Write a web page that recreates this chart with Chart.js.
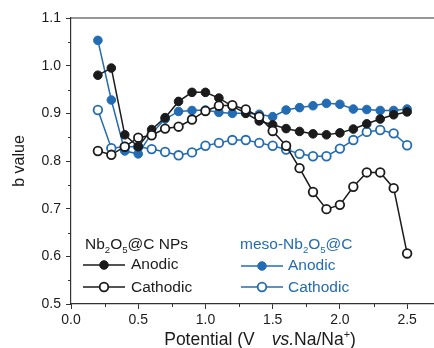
<!DOCTYPE html>
<html>
<head>
<meta charset="utf-8">
<script src="https://cdn.jsdelivr.net/npm/chart.js@4/dist/chart.umd.min.js"></script>
<style>
  html, body { margin: 0; padding: 0; background: #fff; }
  #wrap { width: 434px; height: 348px; position: relative; }
</style>
</head>
<body>
<div id="wrap"><canvas id="c" width="434" height="348"></canvas></div>
<script>
// ---- data ----
const potentials = [0.2,0.3,0.4,0.5,0.6,0.7,0.8,0.9,1.0,1.1,1.2,1.3,1.4,1.5,1.6,1.7,1.8,1.9,2.0,2.1,2.2,2.3,2.4,2.5];
const npAnodic   = [0.980,0.995,0.855,0.830,0.866,0.891,0.925,0.944,0.944,0.932,0.915,0.900,0.884,0.876,0.868,0.862,0.857,0.855,0.859,0.867,0.878,0.888,0.897,0.903];
const npCathodic = [0.821,0.813,0.830,0.849,0.854,0.868,0.872,0.887,0.905,0.916,0.917,0.908,0.893,0.863,0.832,0.785,0.735,0.699,0.708,0.746,0.776,0.776,0.743,0.606];
const mesoAnodic = [1.053,0.928,0.821,0.815,0.858,0.888,0.904,0.906,0.907,0.902,0.900,0.900,0.898,0.893,0.907,0.912,0.916,0.921,0.919,0.909,0.908,0.906,0.906,0.909];
const mesoCathodic = [0.907,0.827,0.830,0.830,0.825,0.819,0.812,0.818,0.832,0.838,0.844,0.844,0.838,0.832,0.824,0.815,0.810,0.810,0.826,0.844,0.861,0.865,0.858,0.833];
const xTicks = [0.0,0.5,1.0,1.5,2.0,2.5];
const yTicks = [0.5,0.6,0.7,0.8,0.9,1.0,1.1];
const xMinorTicks = [0.25,0.75,1.25,1.75,2.25];
const yMinorTicks = [0.55,0.65,0.75,0.85,0.95,1.05];
const groupNP = 'Nb2O5@C NPs';
const groupMeso = 'meso-Nb2O5@C';
const seriesLabels = ['Anodic','Cathodic'];

const BLACK = '#1b1b1b';
const BLUE = '#236cb4';
const FONT = '"Liberation Sans", Arial, Helvetica, sans-serif';

function pts(arr){ return potentials.map((x,i)=>({x:x, y:arr[i]})); }
function ds(label, arr, color, filled){
  return {
    label: label, data: pts(arr), borderColor: color, backgroundColor: filled ? color : '#ffffff',
    borderWidth: 1.5, pointRadius: 4.3, pointBorderWidth: filled ? 1 : 1.8,
    pointBackgroundColor: filled ? color : '#ffffff', pointBorderColor: color,
    tension: 0, fill: false, clip: false
  };
}

function drawRich(ctx, x, y, segs, size, color){
  let cx = x;
  ctx.fillStyle = color;
  ctx.textBaseline = 'alphabetic';
  ctx.textAlign = 'left';
  for (const s of segs){
    if (s.gap){ cx += s.gap; continue; }
    const f = (s.sub || s.sup) ? size*0.62 : size;
    ctx.font = (s.italic ? 'italic ' : '') + f + 'px ' + FONT;
    const dy = s.sub ? size*0.25 : (s.sup ? -size*0.38 : 0);
    ctx.fillText(s.t, cx, y + dy);
    cx += ctx.measureText(s.t).width;
  }
  return cx - x;
}
function richWidth(ctx, segs, size){
  let w = 0;
  for (const s of segs){
    if (s.gap){ w += s.gap; continue; }
    const f = (s.sub || s.sup) ? size*0.62 : size;
    ctx.font = (s.italic ? 'italic ' : '') + f + 'px ' + FONT;
    w += ctx.measureText(s.t).width;
  }
  return w;
}
function formulaSegs(label){
  const segs = [];
  const re = /(\d)/g;
  let last = 0, m;
  while ((m = re.exec(label)) !== null){
    if (m.index > last) segs.push({t: label.slice(last, m.index)});
    segs.push({t: m[1], sub: true});
    last = m.index + 1;
  }
  if (last < label.length) segs.push({t: label.slice(last)});
  return segs;
}

function sample(ctx, x0, x1, y, color, filled){
  ctx.save();
  ctx.strokeStyle = color; ctx.lineWidth = 1.5;
  ctx.beginPath(); ctx.moveTo(x0, y); ctx.lineTo(x1, y); ctx.stroke();
  ctx.beginPath(); ctx.arc((x0+x1)/2, y, 4.3, 0, Math.PI*2);
  ctx.fillStyle = filled ? color : '#fff'; ctx.fill();
  ctx.lineWidth = filled ? 1 : 1.8; ctx.stroke();
  ctx.restore();
}

const decor = {
  id: 'decor',
  afterDraw(chart){
    const ctx = chart.ctx;
    const a = chart.chartArea;
    const xs = chart.scales.x, ys = chart.scales.y;
    ctx.save();
    // top frame line
    ctx.strokeStyle = '#333'; ctx.lineWidth = 1.2;
    ctx.beginPath(); ctx.moveTo(a.left, a.top); ctx.lineTo(a.right, a.top); ctx.stroke();
    // minor ticks
    ctx.lineWidth = 1;
    for (const v of xMinorTicks){
      const px = Math.round(xs.getPixelForValue(v)) + 0.5;
      ctx.beginPath(); ctx.moveTo(px, a.bottom); ctx.lineTo(px, a.bottom + 3); ctx.stroke();
    }
    for (const v of yMinorTicks){
      const py = Math.round(ys.getPixelForValue(v)) + 0.5;
      ctx.beginPath(); ctx.moveTo(a.left, py); ctx.lineTo(a.left - 3, py); ctx.stroke();
    }
    // x-axis title
    const TS = 17.5;
    const tsegs = [{t:'Potential (V'},{gap:17},{t:'vs.', italic:true},{t:'Na/Na'},{t:'+', sup:true},{t:')'}];
    const tw = richWidth(ctx, tsegs, TS);
    drawRich(ctx, 260 - tw/2, 345, tsegs, TS, '#1b1b1b');
    // legends
    const L = 15.5;
    drawRich(ctx, a.left + 14, 249, formulaSegs(groupNP), L, '#1b1b1b');
    sample(ctx, a.left + 12, a.left + 54, 265, BLACK, true);
    drawRich(ctx, a.left + 60, 269, [{t: seriesLabels[0]}], L, '#1b1b1b');
    sample(ctx, a.left + 12, a.left + 54, 287, BLACK, false);
    drawRich(ctx, a.left + 60, 292, [{t: seriesLabels[1]}], L, '#1b1b1b');

    drawRich(ctx, a.left + 169, 249, formulaSegs(groupMeso), L, BLUE);
    sample(ctx, a.left + 170, a.left + 212, 266, BLUE, true);
    drawRich(ctx, a.left + 217, 270, [{t: seriesLabels[0]}], L, BLUE);
    sample(ctx, a.left + 170, a.left + 212, 287, BLUE, false);
    drawRich(ctx, a.left + 217, 292, [{t: seriesLabels[1]}], L, BLUE);
    ctx.restore();
  }
};

new Chart(document.getElementById('c'), {
  type: 'line',
  data: {
    datasets: [
      ds('NP Cathodic', npCathodic, BLACK, false),
      ds('NP Anodic', npAnodic, BLACK, true),
      ds('meso Anodic', mesoAnodic, BLUE, true),
      ds('meso Cathodic', mesoCathodic, BLUE, false)
    ]
  },
  options: {
    responsive: false,
    animation: false,
    devicePixelRatio: 1,
    layout: { autoPadding: false, padding: { top: 18, right: 0, left: 0, bottom: 0 } },
    plugins: { legend: { display: false }, tooltip: { enabled: false } },
    scales: {
      x: {
        type: 'linear', min: 0, max: 2.7,
        afterBuildTicks: s => { s.ticks = xTicks.map(v => ({value: v})); },
        afterFit: s => { s.height = 44; s.paddingLeft = 0; s.paddingRight = 0; },
        ticks: { font: { size: 14, family: FONT }, color: '#1b1b1b', padding: 3, maxRotation: 0, autoSkip: false,
                 callback: v => Number(v).toFixed(1) },
        grid: { drawOnChartArea: false, drawTicks: true, tickLength: 5, color: '#333', lineWidth: 1 },
        border: { display: true, color: '#333', width: 1.2 }
      },
      y: {
        type: 'linear', min: 0.5, max: 1.1,
        afterBuildTicks: s => { s.ticks = yTicks.map(v => ({value: v})); },
        afterFit: s => { s.width = 71; s.paddingTop = 0; s.paddingBottom = 0; },
        ticks: { font: { size: 14, family: FONT }, color: '#1b1b1b', padding: 5,
                 callback: v => Number(v).toFixed(1) },
        grid: { drawOnChartArea: false, drawTicks: true, tickLength: 5, color: '#333', lineWidth: 1 },
        border: { display: true, color: '#333', width: 1.2 },
        title: { display: true, text: 'b value', font: { size: 16, family: FONT }, color: '#1b1b1b', padding: { top: 10, bottom: 0 } }
      }
    }
  },
  plugins: [decor]
});
</script>
</body>
</html>
